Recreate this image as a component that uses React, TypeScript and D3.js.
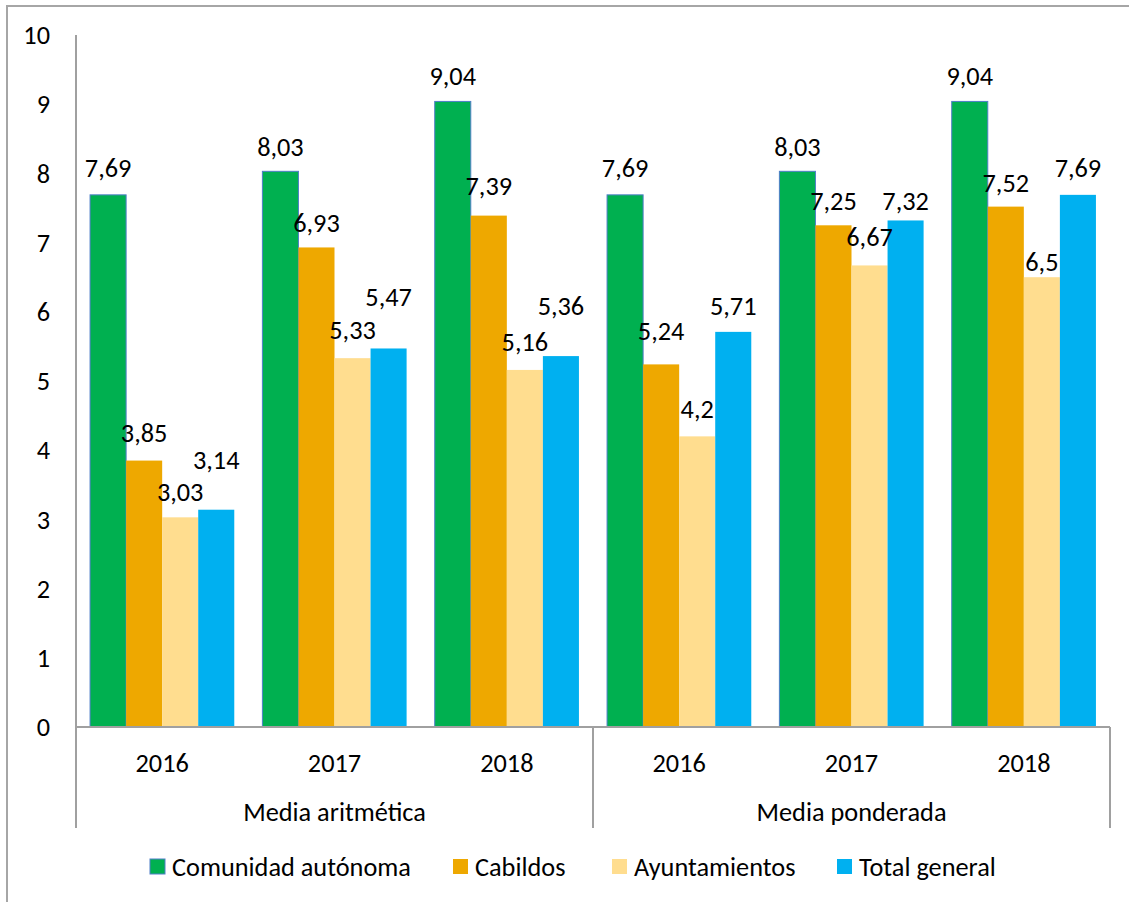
import React from "react";
import * as d3 from "d3";

const groups = ["Media aritmética", "Media ponderada"];
const years = ["2016", "2017", "2018"];
const series = ["Comunidad autónoma", "Cabildos", "Ayuntamientos", "Total general"];
const colors = ["#00B050", "#EEA800", "#FFDD8F", "#00B0F0"];
const comunidad = [7.69, 8.03, 9.04, 7.69, 8.03, 9.04];
const cabildos = [3.85, 6.93, 7.39, 5.24, 7.25, 7.52];
const ayuntamientos = [3.03, 5.33, 5.16, 4.2, 6.67, 6.5];
const totalGeneral = [3.14, 5.47, 5.36, 5.71, 7.32, 7.69];
const yTicks = [0, 1, 2, 3, 4, 5, 6, 7, 8, 9, 10];
// label vertical lift above bar top (px), per series per category
const liftComunidad = [27, 25, 26, 27, 25, 26];
const liftCabildos = [28, 25, 30, 34, 25, 24];
const liftAyunt = [26, 28, 28, 28, 29, 15];
const liftTotal = [50, 52, 50, 26, 20, 27];

const values = [comunidad, cabildos, ayuntamientos, totalGeneral];
const lifts = [liftComunidad, liftCabildos, liftAyunt, liftTotal];

const fmt = (v: number) => String(v).replace(".", ",");

export default function App() {
  const W = 1129, H = 902;
  const x0 = 76, x1 = 1110, yTop = 35, yBot = 727;
  const cats = d3.range(6);
  const xOuter = d3.scaleBand<number>().domain(cats).range([x0, x1]).paddingInner(0).paddingOuter(0);
  const bw = xOuter.bandwidth();
  const xInner = d3.scaleBand<number>().domain(d3.range(4)).range([0, bw]).paddingInner(0).paddingOuter(0.39);
  const y = d3.scaleLinear().domain([0, 10]).range([yBot, yTop]);
  const font = "Carlito, Lato, 'Open Sans', sans-serif";
  const fs = 26.3;
  const axisColor = "#A0A0A0";
  const groupX = d3.scaleBand<number>().domain([0, 1]).range([x0, x1]);

  const legendX = [150, 453, 612, 837];

  return (
    <svg width={W} height={H} style={{ position: "absolute", left: 0, top: 0, background: "#fff" }} fontFamily={font}>
      <rect x={7} y={6} width={W + 10} height={H + 10} fill="#fff" stroke="#A6A6A6" strokeWidth={2} />
      {yTicks.map((t) => (
        <text key={t} x={50} y={y(t)} dy="0.35em" textAnchor="end" fontSize={fs} fill="#000">
          {t}
        </text>
      ))}
      {values.map((vals, s) =>
        vals.map((v, i) => (
          <rect
            key={`b${s}-${i}`}
            x={(xOuter(i) as number) + (xInner(s) as number)}
            y={y(v)}
            width={xInner.bandwidth()}
            height={yBot - y(v)}
            fill={colors[s]}
            stroke={s === 0 ? "#4F7EC8" : "none"}
            strokeWidth={s === 0 ? 1 : 0}
          />
        ))
      )}
      {values.map((vals, s) =>
        vals.map((v, i) => (
          <text
            key={`l${s}-${i}`}
            x={(xOuter(i) as number) + (xInner(s) as number) + xInner.bandwidth() / 2}
            y={y(v) - lifts[s][i]}
            dy="0.35em"
            textAnchor="middle"
            fontSize={fs}
            fill="#000"
          >
            {fmt(v)}
          </text>
        ))
      )}
      <line x1={x0} x2={x0} y1={yTop} y2={828} stroke={axisColor} strokeWidth={2} />
      <line x1={x0} x2={x1} y1={yBot} y2={yBot} stroke={axisColor} strokeWidth={2} />
      {[groupX(1) as number, x1].map((gx, i) => (
        <line key={i} x1={gx} x2={gx} y1={yBot} y2={828} stroke={axisColor} strokeWidth={2} />
      ))}
      {cats.map((i) => (
        <text key={`c${i}`} x={(xOuter(i) as number) + bw / 2} y={763} dy="0.35em" textAnchor="middle" fontSize={fs} fill="#000">
          {years[i % 3]}
        </text>
      ))}
      {groups.map((g, i) => (
        <text key={g} x={(groupX(i) as number) + groupX.bandwidth() / 2} y={812} dy="0.35em" textAnchor="middle" fontSize={fs} fill="#000">
          {g}
        </text>
      ))}
      {series.map((sname, s) => (
        <g key={sname} transform={`translate(${legendX[s]},859)`}>
          <rect x={0} y={0} width={15} height={15} fill={colors[s]} stroke={s === 0 ? "#4F7EC8" : "none"} />
          <text x={22} y={7.5} dy="0.35em" fontSize={fs} fill="#000">
            {sname}
          </text>
        </g>
      ))}
    </svg>
  );
}
